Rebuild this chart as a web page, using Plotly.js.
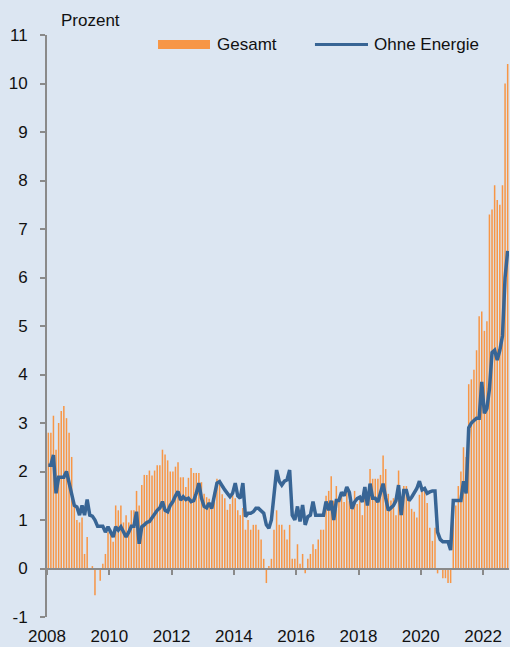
<!DOCTYPE html>
<html>
<head>
<meta charset="utf-8">
<script src="https://cdn.plot.ly/plotly-3.0.1.min.js"></script>
<style>
  html, body { margin: 0; padding: 0; background: #dce6f2; }
  #chart { width: 510px; height: 647px; }
</style>
</head>
<body>
<div id="chart"></div>
<script>
// Monthly values, Jan 2008 - Oct 2022 (Prozent)
const startYear = 2008;
const monthCount = 178;

const gesamt = [
  2.8, 2.8, 3.15, 2.45, 3.0, 3.25, 3.35, 3.1, 2.8, 2.3, 1.35, 1.0,      // 2008
  0.95, 1.05, 0.3, 0.65, 0.0, 0.05, -0.55, 0.0, -0.25, 0.1, 0.3, 0.75, // 2009
  0.8, 0.55, 1.3, 1.2, 1.3, 0.95, 1.1, 0.95, 1.2, 1.2, 1.6, 1.3,       // 2010
  1.72, 1.93, 1.93, 2.02, 1.92, 2.02, 2.13, 2.13, 2.45, 2.35, 2.23, 2.0, // 2011
  2.0, 2.1, 2.19, 1.88, 1.88, 1.68, 1.87, 2.07, 1.97, 1.97, 1.97, 1.78, // 2012
  1.54, 1.47, 1.44, 1.31, 1.57, 1.85, 1.83, 1.53, 1.45, 1.21, 1.33, 1.54, // 2013
  1.45, 1.2, 1.1, 1.25, 0.8, 1.0, 0.8, 0.9, 0.9, 0.8, 0.6, 0.2,        // 2014
  -0.3, 0.05, 0.2, 0.8, 1.2, 0.9, 0.9, 0.8, 0.6, 0.9, 0.2, 0.2,        // 2015
  0.5, 0.1, 0.3, -0.1, 0.2, 0.3, 0.5, 0.4, 0.6, 0.8, 0.8, 1.5,         // 2016
  1.6, 1.9, 1.4, 1.7, 1.45, 1.57, 1.37, 1.65, 1.39, 1.35, 1.6, 1.33,   // 2017
  1.4, 1.1, 1.5, 1.5, 2.05, 1.85, 1.85, 1.85, 1.93, 2.33, 2.05, 1.54,  // 2018
  1.4, 1.45, 1.1, 2.02, 1.25, 1.7, 1.7, 1.45, 1.23, 1.17, 1.05, 1.52,  // 2019
  1.6, 1.6, 1.35, 0.84, 0.57, 0.84, -0.1, 0.0, -0.2, -0.2, -0.3, -0.3, // 2020
  1.25, 1.3, 1.7, 2.0, 2.5, 2.3, 3.8, 3.9, 4.1, 4.5, 5.2, 5.3,         // 2021
  4.9, 5.1, 7.3, 7.4, 7.9, 7.6, 7.5, 7.9, 10.0, 10.4                   // 2022
];

const ohneEnergie = [
  2.13, 2.13, 2.34, 1.55, 1.88, 1.88, 1.88, 2.0, 1.79, 1.55, 1.3, 1.27,  // 2008
  1.1, 1.3, 1.1, 1.42, 1.1, 1.08, 1.0, 0.87, 0.87, 0.87, 0.75, 0.86,     // 2009
  0.75, 0.65, 0.86, 0.79, 0.86, 0.75, 0.65, 0.75, 0.87, 0.87, 1.17, 0.51, // 2010
  0.86, 0.9, 0.95, 0.97, 1.05, 1.1, 1.2, 1.25, 1.38, 1.2, 1.17, 1.3,     // 2011
  1.38, 1.5, 1.59, 1.41, 1.48, 1.42, 1.45, 1.38, 1.4, 1.55, 1.76, 1.45,  // 2012
  1.28, 1.25, 1.35, 1.24, 1.5, 1.76, 1.79, 1.69, 1.62, 1.55, 1.48, 1.55, // 2013
  1.76, 1.5, 1.45, 1.76, 1.07, 1.14, 1.14, 1.17, 1.24, 1.24, 1.2, 1.14,  // 2014
  0.9, 0.83, 1.0, 1.5, 2.03, 1.8, 1.72, 1.8, 1.83, 2.03, 1.1, 1.0,       // 2015
  1.28, 0.97, 1.31, 0.9, 1.07, 1.1, 1.38, 1.1, 1.1, 1.1, 1.1, 1.38,      // 2016
  1.2, 1.4, 1.0, 1.4, 1.4, 1.57, 1.5, 1.68, 1.57, 1.23, 1.37, 1.44,      // 2017
  1.47, 1.37, 1.68, 1.3, 1.75, 1.45, 1.45, 1.37, 1.57, 1.75, 1.45, 1.2,  // 2018
  1.25, 1.3, 1.4, 1.72, 1.1, 1.61, 1.61, 1.4, 1.47, 1.57, 1.65, 1.8,     // 2019
  1.62, 1.65, 1.55, 1.58, 1.6, 1.6, 0.75, 0.6, 0.55, 0.55, 0.55, 0.38,   // 2020
  1.4, 1.4, 1.4, 1.4, 1.8, 1.55, 2.9, 3.0, 3.05, 3.1, 3.1, 3.85,         // 2021
  3.2, 3.3, 3.7, 4.45, 4.5, 4.3, 4.5, 4.8, 6.0, 6.55                     // 2022
];

const seriesNames = ['Gesamt', 'Ohne Energie'];
const yTickValues = [-1, 0, 1, 2, 3, 4, 5, 6, 7, 8, 9, 10, 11];
const yAxisLabel = 'Prozent';

// month dates
const months = [];
for (let k = 0; k < monthCount; k++) {
  const y = startYear + Math.floor(k / 12);
  const m = (k % 12) + 1;
  months.push(y + '-' + (m < 10 ? '0' + m : m) + '-01');
}

const xRange = ['2008-01-01', '2022-11-01'];
const yRange = [-1, 11];
const zeroPos = (0 - yRange[0]) / (yRange[1] - yRange[0]);

const orange = '#f79646';
const blue = '#386595';
const axisGray = '#8a8a8a';
const bg = '#dce6f2';
const fontFam = 'Liberation Sans, Arial, sans-serif';

const traces = [
  {
    type: 'bar', name: seriesNames[0], x: months, y: gesamt,
    xperiod: 'M1', xperiodalignment: 'middle',
    marker: { color: orange, line: { width: 0 } },
    showlegend: false, hoverinfo: 'skip'
  },
  {
    type: 'scatter', mode: 'lines', name: seriesNames[1], x: months, y: ohneEnergie,
    xperiod: 'M1', xperiodalignment: 'middle',
    line: { color: blue, width: 3.5 },
    showlegend: false, hoverinfo: 'skip'
  },
  {
    type: 'scatter', mode: 'lines', x: [months[0]], y: [null], xaxis: 'x2',
    showlegend: false, hoverinfo: 'skip'
  }
];

const layout = {
  width: 510, height: 647,
  paper_bgcolor: bg, plot_bgcolor: bg,
  margin: { l: 47, r: 1, t: 35, b: 30 },
  font: { family: fontFam, size: 17, color: '#111111' },
  bargap: 0.4,
  showlegend: false,
  xaxis: {
    type: 'date', range: xRange, tick0: '2008-01-01', dtick: 'M24', tickformat: '%Y',
    showline: false, ticks: '', showgrid: false, zeroline: false,
    tickfont: { size: 17, family: fontFam, color: '#111111' },
    ticklabelstandoff: 7
  },
  xaxis2: {
    type: 'date', overlaying: 'x', anchor: 'free', position: zeroPos, side: 'bottom',
    range: xRange, tick0: '2008-01-01', dtick: 'M24',
    showline: true, linecolor: axisGray, linewidth: 2,
    ticks: 'outside', ticklen: 5, tickwidth: 2, tickcolor: axisGray,
    showticklabels: false, showgrid: false, zeroline: false
  },
  yaxis: {
    range: yRange, tickvals: yTickValues, ticktext: yTickValues.map(String),
    showline: true, linecolor: axisGray, linewidth: 2,
    ticks: 'outside', ticklen: 5, tickwidth: 2, tickcolor: axisGray,
    showgrid: false, zeroline: false,
    tickfont: { size: 17, family: fontFam, color: '#111111' },
    ticklabelstandoff: 9
  },
  shapes: [
    { type: 'rect', xref: 'paper', yref: 'paper', x0: 0.2403, x1: 0.3528, y0: 0.976, y1: 0.9914,
      fillcolor: orange, line: { width: 0 } },
    { type: 'line', xref: 'paper', yref: 'paper', x0: 0.580, x1: 0.6948, y0: 0.9837, y1: 0.9837,
      line: { color: blue, width: 3 } }
  ],
  annotations: [
    { text: seriesNames[0], xref: 'paper', yref: 'paper', x: 0.3636, y: 0.9837,
      xanchor: 'left', yanchor: 'middle', showarrow: false, font: { size: 17 } },
    { text: seriesNames[1], xref: 'paper', yref: 'paper', x: 0.7035, y: 0.9837,
      xanchor: 'left', yanchor: 'middle', showarrow: false, font: { size: 17 } },
    { text: yAxisLabel, xref: 'paper', yref: 'paper', x: 0.026, y: 1.0246,
      xanchor: 'left', yanchor: 'middle', showarrow: false, font: { size: 17 } }
  ]
};

Plotly.newPlot('chart', traces, layout, { staticPlot: true, displayModeBar: false });
</script>
</body>
</html>
